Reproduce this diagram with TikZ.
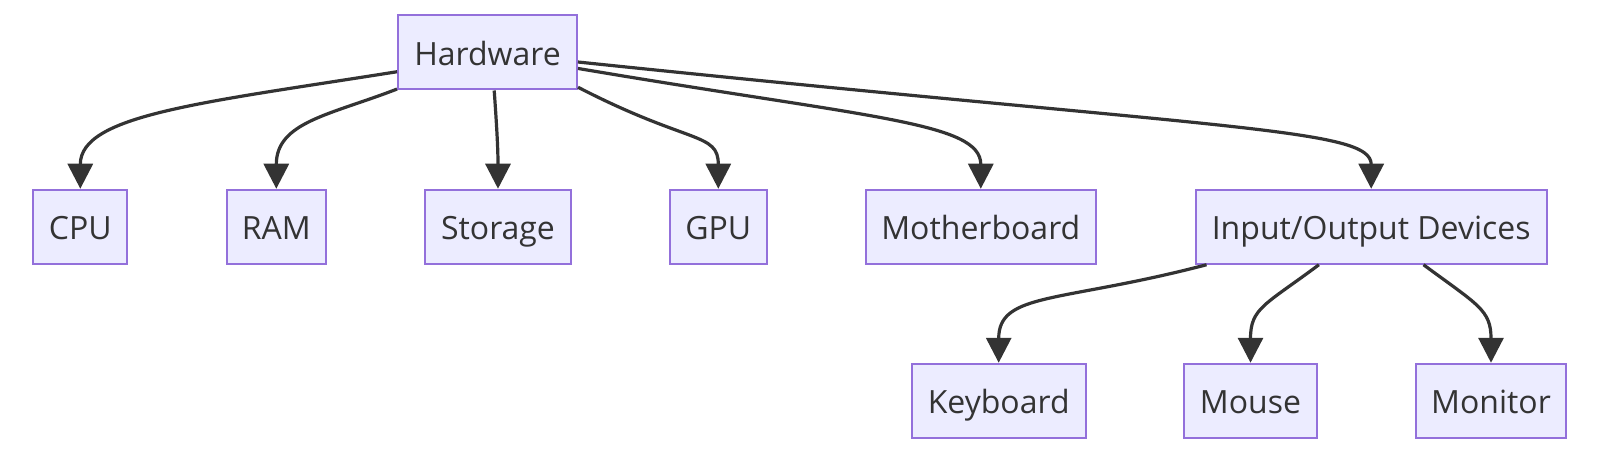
\documentclass[tikz,border=0pt]{standalone}
\usepackage{fontspec}
\setmainfont{Open Sans}
\usetikzlibrary{arrows.meta}
\definecolor{nodefill}{HTML}{ECECFF}
\definecolor{nodeline}{HTML}{9370DB}
\definecolor{edgecol}{HTML}{333333}
\definecolor{txtcol}{HTML}{333333}
\tikzset{
  box/.style={rectangle, draw=nodeline, fill=nodefill, line width=1pt,
    minimum height=37pt, inner sep=0pt, text=txtcol,
    text height=14pt, text depth=1.4pt,
    font=\fontsize{16pt}{19pt}\selectfont},
  link/.style={draw=edgecol, line width=1.6pt,
    -{Triangle[length=12.5pt,width=12.5pt]}}
}
\begin{document}
\begin{tikzpicture}[x=0.5pt,y=-0.5pt]
\useasboundingbox (0,0) rectangle (1600,454);
\node[box, minimum width=89.5pt] (hw) at (487.5,52.5) {Hardware};
\node[box, minimum width=47pt] (cpu) at (80.3,226.75) {CPU};
\node[box, minimum width=49.65pt] (ram) at (276.3,226.75) {RAM};
\node[box, minimum width=72.65pt] (sto) at (498,226.75) {Storage};
\node[box, minimum width=48.35pt] (gpu) at (718.3,226.75) {GPU};
\node[box, minimum width=115.15pt] (mb) at (980.8,226.75) {Motherboard};
\node[box, minimum width=175.5pt] (io) at (1371.2,226.75) {Input/Output Devices};
\node[box, minimum width=87pt] (kb) at (998.7,400.75) {Keyboard};
\node[box, minimum width=66.2pt] (ms) at (1250.5,400.75) {Mouse};
\node[box, minimum width=75pt] (mon) at (1491,400.75) {Monitor};

\draw[link] (hw.192) .. controls (200,103) and (80.3,115) .. (cpu.north);
\draw[link] (hw.202) .. controls (330,115) and (276.3,122) .. (ram.north);
\draw[link] (hw.280) .. controls (497,130) and (498,150) .. (sto.north);
\draw[link] (hw.339) .. controls (690,145) and (718.3,132) .. (gpu.north);
\draw[link] (hw.350) .. controls (870,118) and (980.8,122) .. (mb.north);
\draw[link] (hw.354) .. controls (1230,130) and (1371.2,128) .. (io.north);
\draw[link] (io.193) .. controls (1060,303) and (998.7,292) .. (kb.north);
\draw[link] (io.216) .. controls (1265,305) and (1250.5,308) .. (ms.north);
\draw[link] (io.324) .. controls (1478,305) and (1491,310) .. (mon.north);
\end{tikzpicture}
\end{document}
